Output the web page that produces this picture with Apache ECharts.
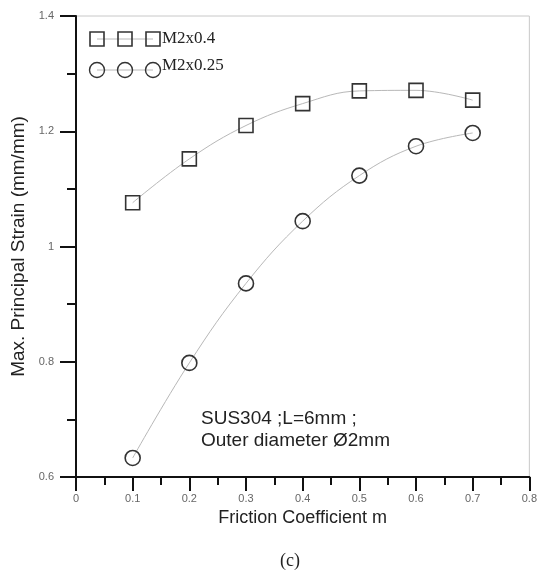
<!DOCTYPE html>
<html><head><meta charset="utf-8">
<script src="https://cdn.jsdelivr.net/npm/echarts@6/dist/echarts.min.js"></script>
<style>html,body{margin:0;padding:0;background:#fff}#c{width:540px;height:572px}</style>
</head><body><div id="c"></div>
<script>
const frictionM = [0.1, 0.2, 0.3, 0.4, 0.5, 0.6, 0.7];
const strainM2x04 = [1.076, 1.152, 1.210, 1.248, 1.270, 1.271, 1.254];
const strainM2x025 = [0.633, 0.798, 0.936, 1.044, 1.123, 1.174, 1.197];
const seriesNames = ['M2x0.4', 'M2x0.25'];

const chart = echarts.init(document.getElementById('c'));
const pairs = (xs, ys) => xs.map((x, i) => [x, ys[i]]);
const markStyle = {color: 'rgba(255,255,255,0)', borderColor: '#333', borderWidth: 1.6};
const lineStyle = {color: '#b8b8b8', width: 1};
const sans = 'Arial, "Liberation Sans", sans-serif';
const serif = '"Times New Roman", "Liberation Serif", serif';

function legendRow(y, ty, shape, label) {
  const xs = [97, 125, 153];
  const els = [{type: 'line', shape: {x1: 97, y1: y, x2: 153, y2: y}, style: {stroke: '#b8b8b8', lineWidth: 1}}];
  xs.forEach(x => {
    if (shape === 'rect') els.push({type: 'rect', shape: {x: x - 7, y: y - 7, width: 14, height: 14}, style: {fill: 'rgba(255,255,255,0)', stroke: '#333', lineWidth: 1.6}});
    else els.push({type: 'circle', shape: {cx: x, cy: y, r: 7.5}, style: {fill: 'rgba(255,255,255,0)', stroke: '#333', lineWidth: 1.4}});
  });
  els.push({type: 'text', x: 162, y: ty, style: {text: label, font: '17px ' + serif, fill: '#222', verticalAlign: 'middle'}});
  return els;
}

chart.setOption({
  animation: false,
  backgroundColor: '#fff',
  grid: {left: 76, right: 4, top: 16, bottom: 95, show: true, borderColor: '#c8c8c8', borderWidth: 1},
  xAxis: {
    type: 'value', min: 0, max: 0.8, interval: 0.1,
    name: 'Friction Coefficient m', nameLocation: 'middle', nameGap: 30,
    nameTextStyle: {fontFamily: sans, fontSize: 18, color: '#222'},
    axisLine: {show: true, lineStyle: {color: '#111', width: 2}},
    axisTick: {show: true, length: 14, lineStyle: {color: '#111', width: 2}},
    minorTick: {show: true, splitNumber: 2, length: 8, lineStyle: {color: '#111', width: 2}},
    axisLabel: {fontFamily: sans, fontSize: 11, color: '#666', margin: 16,
      formatter: v => String(+v.toFixed(1))},
    splitLine: {show: false}
  },
  yAxis: {
    type: 'value', min: 0.6, max: 1.4, interval: 0.2,
    name: 'Max. Principal Strain (mm/mm)', nameLocation: 'middle', nameGap: 36,
    nameTextStyle: {fontFamily: sans, fontSize: 19, color: '#222'},
    axisLine: {show: true, lineStyle: {color: '#111', width: 2}},
    axisTick: {show: true, length: 16, lineStyle: {color: '#111', width: 2}},
    minorTick: {show: true, splitNumber: 2, length: 9, lineStyle: {color: '#111', width: 2}},
    axisLabel: {fontFamily: sans, fontSize: 11, color: '#666', margin: 22,
      formatter: v => String(+v.toFixed(1))},
    splitLine: {show: false}
  },
  series: [
    {name: seriesNames[0], type: 'line', smooth: 0.4, data: pairs(frictionM, strainM2x04),
     symbol: 'rect', symbolSize: 14, itemStyle: markStyle, lineStyle: lineStyle, z: 3},
    {name: seriesNames[1], type: 'line', smooth: 0.4, data: pairs(frictionM, strainM2x025),
     symbol: 'circle', symbolSize: 15, itemStyle: markStyle, lineStyle: lineStyle, z: 3}
  ],
  graphic: [
    ...legendRow(39, 39, 'rect', seriesNames[0]),
    ...legendRow(70, 66, 'circle', seriesNames[1]),
    {type: 'text', x: 201, y: 430, style: {text: 'SUS304 ;L=6mm ;\nOuter diameter Ø2mm', font: '19px ' + sans, fill: '#222', lineHeight: 22, verticalAlign: 'middle'}},
    {type: 'text', x: 290, y: 561, style: {text: '(c)', font: '18px ' + serif, fill: '#222', align: 'center', verticalAlign: 'middle'}}
  ]
});
</script></body></html>
